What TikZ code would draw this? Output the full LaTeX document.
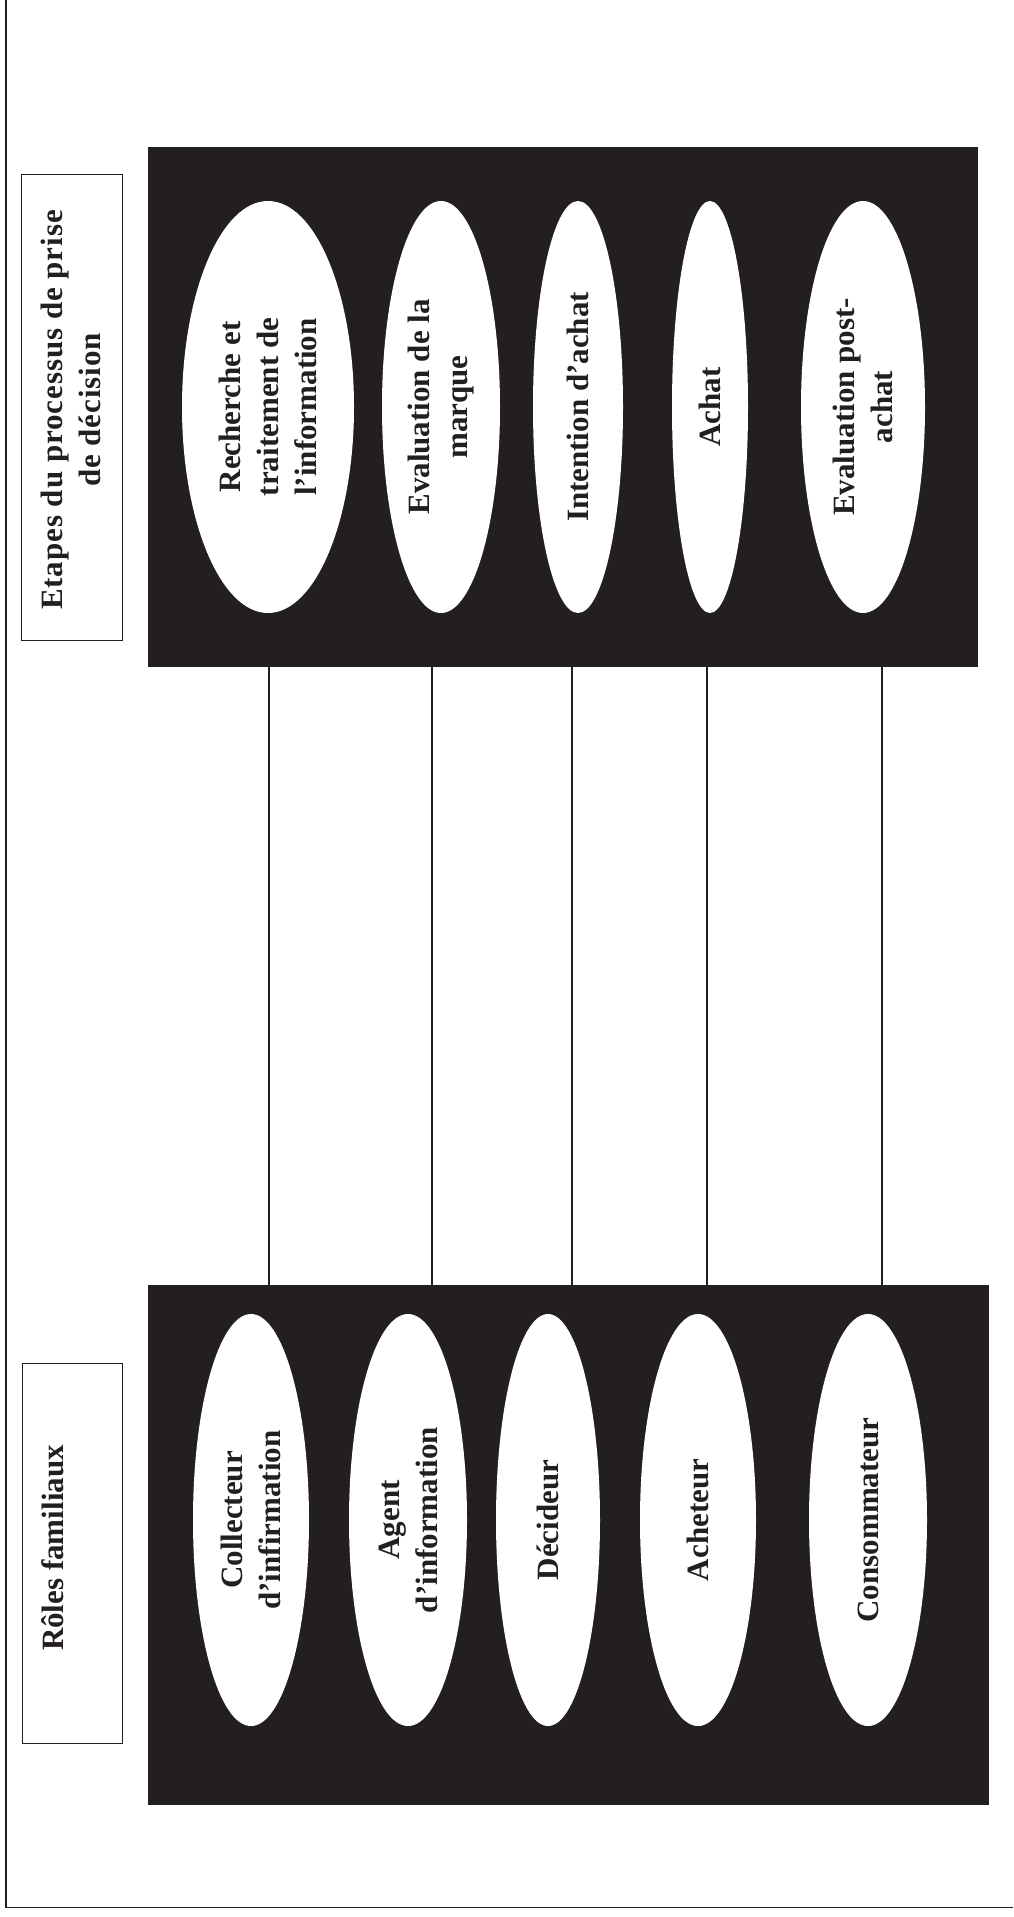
\documentclass[tikz,border=0pt]{standalone}
\usepackage{fontspec}
\setmainfont{Liberation Serif}
\usetikzlibrary{shapes.geometric}
\definecolor{ink}{RGB}{35,31,32}
\begin{document}
\begin{tikzpicture}[x=1pt,y=1pt,
  blackbox/.style={fill=ink, draw=none, inner sep=0pt, anchor=north west},
  oval/.style={ellipse, fill=white, draw=none, inner sep=0pt},
  lbl/.style={rotate=90, align=center, font=\fontsize{31}{38}\selectfont\bfseries, text=ink, inner sep=0pt},
  labelbox/.style={draw=ink, line width=1.3pt, inner sep=0pt, anchor=north west},
  frameline/.style={draw=ink, line width=1.3pt},
  conn/.style={draw=ink, line width=1.1pt}]
\useasboundingbox (0,0) rectangle (1013,-1917);
\fill[white] (0,0) rectangle (1013,-1917);
\draw[frameline] (6,0) -- (6,-1907.7) -- (1013,-1907.7);

% black boxes
\node[blackbox, minimum width=830pt, minimum height=520pt] (topbox) at (148,-147) {};
\node[blackbox, minimum width=841pt, minimum height=520pt] (botbox) at (148,-1285) {};

% label boxes
\node[labelbox, minimum width=101pt, minimum height=466pt] (tlab) at (21,-174) {};
\node[labelbox, minimum width=100pt, minimum height=380pt] (blab) at (22,-1363) {};
\node[lbl, anchor=north, font=\fontsize{31}{38}\selectfont\bfseries\addfontfeatures{LetterSpace=3}] (ttitle) at (41,-410) {Etapes du processus de prise\\de décision};
\node[lbl, anchor=north] (btitle) at (41,-1548) {Rôles familiaux};

% top ellipses
\node[oval, minimum width=172pt, minimum height=412pt] (s1) at (268,-407) {};
\node[oval, minimum width=118pt, minimum height=412pt] (s2) at (441,-407) {};
\node[oval, minimum width=90pt, minimum height=412pt] (s3) at (578,-407) {};
\node[oval, minimum width=76pt, minimum height=412pt] (s4) at (710,-407) {};
\node[oval, minimum width=124pt, minimum height=412pt] (s5) at (863,-407) {};
\node[lbl] (s1t) at (s1.center) {Recherche et\\traitement de\\l’information};
\node[lbl] (s2t) at (s2.center) {Evaluation de la\\marque};
\node[lbl] (s3t) at (s3.center) {Intention d’achat};
\node[lbl] (s4t) at (s4.center) {Achat};
\node[lbl] (s5t) at (s5.center) {Evaluation post-\\achat};

% bottom ellipses
\node[oval, minimum width=116pt, minimum height=412pt] (r1) at (251,-1520) {};
\node[oval, minimum width=118pt, minimum height=412pt] (r2) at (408,-1520) {};
\node[oval, minimum width=104pt, minimum height=412pt] (r3) at (548,-1520) {};
\node[oval, minimum width=116pt, minimum height=412pt] (r4) at (698,-1520) {};
\node[oval, minimum width=118pt, minimum height=412pt] (r5) at (868,-1520) {};
\node[lbl] (r1t) at (r1.center) {Collecteur\\d’infirmation};
\node[lbl] (r2t) at (r2.center) {Agent\\d’information};
\node[lbl] (r3t) at (r3.center) {Décideur};
\node[lbl] (r4t) at (r4.center) {Acheteur};
\node[lbl] (r5t) at (r5.center) {Consommateur};

% connectors
\coordinate (c1) at (269,0);
\coordinate (c2) at (432,0);
\coordinate (c3) at (572,0);
\coordinate (c4) at (707,0);
\coordinate (c5) at (882,0);
\foreach \c in {c1,c2,c3,c4,c5}
  \draw[conn] (topbox.south -| \c) -- (botbox.north -| \c);
\end{tikzpicture}
\end{document}
